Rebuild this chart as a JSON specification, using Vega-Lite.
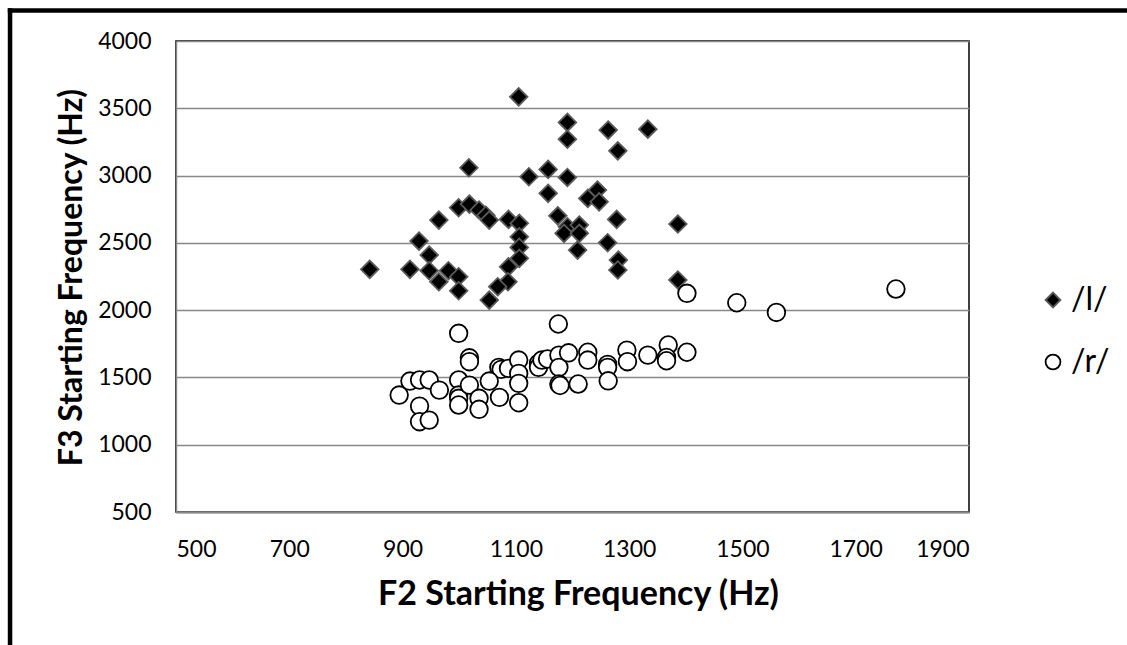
{
  "$schema": "https://vega.github.io/schema/vega-lite/v6.json",
  "width": 793,
  "height": 471,
  "autosize": {"type": "none"},
  "padding": {"left": 176, "top": 41, "right": 158, "bottom": 133},
  "background": "white",
  "config": {
    "view": {"stroke": "#000000", "strokeWidth": 1.5},
    "font": "Lato",
    "axis": {
      "labelFont": "Lato",
      "labelFontSize": 23,
      "labelColor": "#000000",
      "titleFont": "Lato",
      "titleFontSize": 34,
      "titleFontWeight": "bold",
      "titleColor": "#000000",
      "ticks": false,
      "format": "d",
      "domainColor": "#888888",
      "domainWidth": 2
    }
  },
  "layer": [
    {
      "data": {
        "values": [
          {"f2": 1105, "f3": 3585, "phoneme": "/l/"},
          {"f2": 1191, "f3": 3395, "phoneme": "/l/"},
          {"f2": 1191, "f3": 3270, "phoneme": "/l/"},
          {"f2": 1263, "f3": 3338, "phoneme": "/l/"},
          {"f2": 1333, "f3": 3345, "phoneme": "/l/"},
          {"f2": 1280, "f3": 3184, "phoneme": "/l/"},
          {"f2": 1017, "f3": 3058, "phoneme": "/l/"},
          {"f2": 1123, "f3": 2991, "phoneme": "/l/"},
          {"f2": 1157, "f3": 3046, "phoneme": "/l/"},
          {"f2": 1191, "f3": 2986, "phoneme": "/l/"},
          {"f2": 1157, "f3": 2868, "phoneme": "/l/"},
          {"f2": 1244, "f3": 2892, "phoneme": "/l/"},
          {"f2": 1227, "f3": 2830, "phoneme": "/l/"},
          {"f2": 1247, "f3": 2805, "phoneme": "/l/"},
          {"f2": 1278, "f3": 2674, "phoneme": "/l/"},
          {"f2": 1386, "f3": 2640, "phoneme": "/l/"},
          {"f2": 1174, "f3": 2701, "phoneme": "/l/"},
          {"f2": 1191, "f3": 2620, "phoneme": "/l/"},
          {"f2": 1212, "f3": 2632, "phoneme": "/l/"},
          {"f2": 1185, "f3": 2571, "phoneme": "/l/"},
          {"f2": 1212, "f3": 2571, "phoneme": "/l/"},
          {"f2": 1209, "f3": 2446, "phoneme": "/l/"},
          {"f2": 1262, "f3": 2501, "phoneme": "/l/"},
          {"f2": 1281, "f3": 2372, "phoneme": "/l/"},
          {"f2": 1280, "f3": 2298, "phoneme": "/l/"},
          {"f2": 1386, "f3": 2224, "phoneme": "/l/"},
          {"f2": 842, "f3": 2303, "phoneme": "/l/"},
          {"f2": 913, "f3": 2303, "phoneme": "/l/"},
          {"f2": 929, "f3": 2513, "phoneme": "/l/"},
          {"f2": 947, "f3": 2409, "phoneme": "/l/"},
          {"f2": 947, "f3": 2293, "phoneme": "/l/"},
          {"f2": 964, "f3": 2669, "phoneme": "/l/"},
          {"f2": 964, "f3": 2211, "phoneme": "/l/"},
          {"f2": 981, "f3": 2293, "phoneme": "/l/"},
          {"f2": 999, "f3": 2248, "phoneme": "/l/"},
          {"f2": 999, "f3": 2144, "phoneme": "/l/"},
          {"f2": 999, "f3": 2761, "phoneme": "/l/"},
          {"f2": 1018, "f3": 2788, "phoneme": "/l/"},
          {"f2": 1035, "f3": 2744, "phoneme": "/l/"},
          {"f2": 1047, "f3": 2705, "phoneme": "/l/"},
          {"f2": 1053, "f3": 2669, "phoneme": "/l/"},
          {"f2": 1087, "f3": 2674, "phoneme": "/l/"},
          {"f2": 1106, "f3": 2645, "phoneme": "/l/"},
          {"f2": 1106, "f3": 2545, "phoneme": "/l/"},
          {"f2": 1106, "f3": 2466, "phoneme": "/l/"},
          {"f2": 1106, "f3": 2385, "phoneme": "/l/"},
          {"f2": 1087, "f3": 2322, "phoneme": "/l/"},
          {"f2": 1086, "f3": 2211, "phoneme": "/l/"},
          {"f2": 1068, "f3": 2174, "phoneme": "/l/"},
          {"f2": 1053, "f3": 2075, "phoneme": "/l/"},
          {"f2": 1402, "f3": 2125, "phoneme": "/r/"},
          {"f2": 1490, "f3": 2055, "phoneme": "/r/"},
          {"f2": 1560, "f3": 1983, "phoneme": "/r/"},
          {"f2": 1771, "f3": 2157, "phoneme": "/r/"},
          {"f2": 999, "f3": 1828, "phoneme": "/r/"},
          {"f2": 1175, "f3": 1897, "phoneme": "/r/"},
          {"f2": 1018, "f3": 1646, "phoneme": "/r/"},
          {"f2": 1018, "f3": 1617, "phoneme": "/r/"},
          {"f2": 1070, "f3": 1575, "phoneme": "/r/"},
          {"f2": 1074, "f3": 1560, "phoneme": "/r/"},
          {"f2": 1087, "f3": 1567, "phoneme": "/r/"},
          {"f2": 1105, "f3": 1629, "phoneme": "/r/"},
          {"f2": 1105, "f3": 1530, "phoneme": "/r/"},
          {"f2": 1105, "f3": 1456, "phoneme": "/r/"},
          {"f2": 1105, "f3": 1312, "phoneme": "/r/"},
          {"f2": 1140, "f3": 1605, "phoneme": "/r/"},
          {"f2": 1140, "f3": 1575, "phoneme": "/r/"},
          {"f2": 1146, "f3": 1629, "phoneme": "/r/"},
          {"f2": 1156, "f3": 1637, "phoneme": "/r/"},
          {"f2": 1176, "f3": 1666, "phoneme": "/r/"},
          {"f2": 1176, "f3": 1575, "phoneme": "/r/"},
          {"f2": 1176, "f3": 1451, "phoneme": "/r/"},
          {"f2": 1178, "f3": 1440, "phoneme": "/r/"},
          {"f2": 1193, "f3": 1683, "phoneme": "/r/"},
          {"f2": 1210, "f3": 1451, "phoneme": "/r/"},
          {"f2": 1227, "f3": 1687, "phoneme": "/r/"},
          {"f2": 1227, "f3": 1629, "phoneme": "/r/"},
          {"f2": 1262, "f3": 1597, "phoneme": "/r/"},
          {"f2": 1262, "f3": 1575, "phoneme": "/r/"},
          {"f2": 1263, "f3": 1475, "phoneme": "/r/"},
          {"f2": 1296, "f3": 1703, "phoneme": "/r/"},
          {"f2": 1297, "f3": 1617, "phoneme": "/r/"},
          {"f2": 1333, "f3": 1666, "phoneme": "/r/"},
          {"f2": 1369, "f3": 1741, "phoneme": "/r/"},
          {"f2": 1366, "f3": 1649, "phoneme": "/r/"},
          {"f2": 1366, "f3": 1624, "phoneme": "/r/"},
          {"f2": 1402, "f3": 1687, "phoneme": "/r/"},
          {"f2": 894, "f3": 1369, "phoneme": "/r/"},
          {"f2": 913, "f3": 1473, "phoneme": "/r/"},
          {"f2": 930, "f3": 1481, "phoneme": "/r/"},
          {"f2": 947, "f3": 1481, "phoneme": "/r/"},
          {"f2": 965, "f3": 1406, "phoneme": "/r/"},
          {"f2": 930, "f3": 1287, "phoneme": "/r/"},
          {"f2": 930, "f3": 1171, "phoneme": "/r/"},
          {"f2": 947, "f3": 1183, "phoneme": "/r/"},
          {"f2": 999, "f3": 1481, "phoneme": "/r/"},
          {"f2": 999, "f3": 1369, "phoneme": "/r/"},
          {"f2": 999, "f3": 1345, "phoneme": "/r/"},
          {"f2": 999, "f3": 1295, "phoneme": "/r/"},
          {"f2": 1018, "f3": 1443, "phoneme": "/r/"},
          {"f2": 1035, "f3": 1345, "phoneme": "/r/"},
          {"f2": 1035, "f3": 1263, "phoneme": "/r/"},
          {"f2": 1053, "f3": 1473, "phoneme": "/r/"},
          {"f2": 1071, "f3": 1352, "phoneme": "/r/"}
        ]
      },
      "mark": {"type": "point", "filled": false, "size": 310, "strokeWidth": 1.8, "opacity": 1},
      "encoding": {
        "x": {
          "field": "f2",
          "type": "quantitative",
          "scale": {"domain": [500, 1900], "nice": false, "zero": false},
          "axis": {
            "values": [500, 700, 900, 1100, 1300, 1500, 1700, 1900],
            "grid": false,
            "labelPadding": 26,
            "title": "F2 Starting Frequency (Hz)",
            "titleX": 402,
            "titleY": 82,
            "titleBaseline": "middle"
          }
        },
        "y": {
          "field": "f3",
          "type": "quantitative",
          "scale": {"domain": [500, 4000], "nice": false, "zero": false},
          "axis": {
            "values": [500, 1000, 1500, 2000, 2500, 3000, 3500, 4000],
            "grid": true,
            "gridColor": "#888888",
            "gridWidth": 1.4,
            "domainWidth": 1.4,
            "labelPadding": 25,
            "title": "F3 Starting Frequency (Hz)",
            "titleFontSize": 32,
            "titleX": -105,
            "titleY": 236,
            "titleAngle": -90,
            "titleBaseline": "middle"
          }
        },
        "shape": {
          "field": "phoneme",
          "type": "nominal",
          "scale": {"domain": ["/l/", "/r/"], "range": ["diamond", "circle"]},
          "legend": {
            "title": null,
            "orient": "none",
            "legendX": 861,
            "legendY": 243,
            "padding": 0,
            "symbolSize": 220,
            "symbolStrokeWidth": 1.8,
            "labelFont": "Lato",
            "labelFontSize": 32,
            "labelColor": "#000000",
            "labelOffset": 2,
            "rowPadding": 30
          }
        },
        "fill": {
          "field": "phoneme",
          "type": "nominal",
          "scale": {"domain": ["/l/", "/r/"], "range": ["#000000", "#ffffff"]},
          "legend": {
            "title": null,
            "orient": "none",
            "legendX": 861,
            "legendY": 243,
            "padding": 0,
            "symbolSize": 220,
            "symbolStrokeWidth": 1.8,
            "labelFont": "Lato",
            "labelFontSize": 32,
            "labelColor": "#000000",
            "labelOffset": 2,
            "rowPadding": 30
          }
        },
        "stroke": {
          "field": "phoneme",
          "type": "nominal",
          "scale": {"domain": ["/l/", "/r/"], "range": ["#5a5a5a", "#000000"]},
          "legend": {
            "title": null,
            "orient": "none",
            "legendX": 861,
            "legendY": 243,
            "padding": 0,
            "symbolSize": 220,
            "symbolStrokeWidth": 1.8,
            "labelFont": "Lato",
            "labelFontSize": 32,
            "labelColor": "#000000",
            "labelOffset": 2,
            "rowPadding": 30
          }
        }
      }
    },
    {
      "data": {"values": [{}]},
      "mark": {"type": "rule", "color": "#000000", "strokeWidth": 4.5, "clip": false},
      "encoding": {
        "x": {"datum": 203},
        "x2": {"datum": 2300},
        "y": {"datum": 4227}
      }
    },
    {
      "data": {"values": [{}]},
      "mark": {"type": "rule", "color": "#000000", "strokeWidth": 4.5, "clip": false},
      "encoding": {
        "x": {"datum": 207},
        "y": {"datum": 4243},
        "y2": {"datum": -700}
      }
    }
  ]
}
